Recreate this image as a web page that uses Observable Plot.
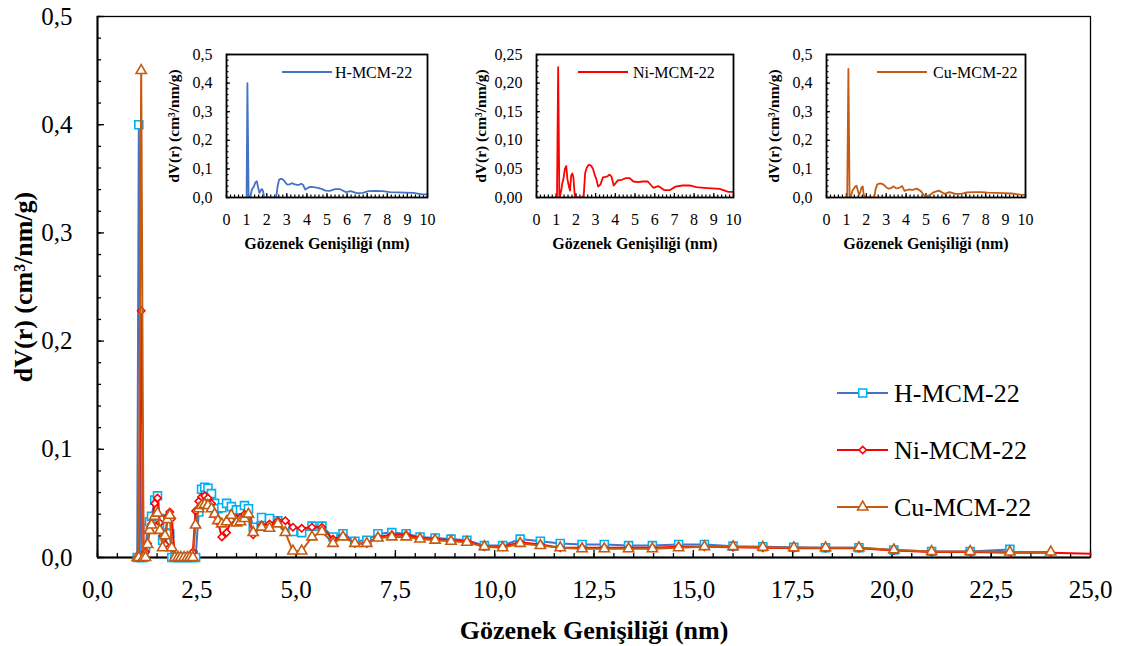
<!DOCTYPE html>
<html><head><meta charset="utf-8">
<script src="https://cdn.jsdelivr.net/npm/d3@7"></script>
<script src="https://cdn.jsdelivr.net/npm/@observablehq/plot@0.6"></script>
<style>
body{margin:0;background:#fff;}
#wrap{position:relative;width:1124px;height:646px;overflow:hidden;background:#fff;}
#wrap > svg{position:absolute;background:transparent !important;font-family:"Liberation Serif","Times New Roman",serif !important;}
#wrap > svg text{font-family:"Liberation Serif","Times New Roman",serif !important;}
</style></head><body><div id="wrap"></div>
<script>
// ---- data ----
const xs = [1.00,1.04,1.10,1.16,1.21,1.26,1.31,1.36,1.44,1.51,1.57,1.64,1.70,1.76,1.82,1.87,1.95,2.03,2.10,2.18,
  2.26,2.33,2.40,2.47,2.55,2.62,2.70,2.78,2.87,2.95,3.03,3.13,3.25,3.37,3.50,3.60,3.70,3.80,3.92,4.13,
  4.33,4.54,4.73,4.92,5.14,5.40,5.65,5.93,6.18,6.48,6.78,7.06,7.41,7.77,8.12,8.50,8.90,9.30,9.74,10.20,
  10.64,11.15,11.65,12.20,12.76,13.37,13.97,14.63,15.28,16.00,16.75,17.53,18.33,19.17,20.05,21.00,21.97,22.97,24.00,25.00];
const hY = [0,0.400,0,0,0.010,0.027,0.033,0.038,0.053,0.057,0.036,0.016,0.024,0.030,0.022,0,0,0,0,0,
  0,0,0,0,0.042,0.063,0.065,0.064,0.059,0.050,0.045,0.046,0.050,0.047,0.044,0.044,0.048,0.045,0.028,0.037,
  0.036,0.034,0.030,0.024,0.023,0.029,0.029,0.019,0.022,0.015,0.016,0.022,0.023,0.022,0.019,0.018,0.017,0.016,0.011,0.011,
  0.017,0.015,0.013,0.012,0.012,0.011,0.011,0.012,0.012,0.0105,0.010,0.0095,0.009,0.009,0.007,0.0055,0.0055,0.0075,null,null];
const niY = [0,0,0.228,0,0.005,0.013,0.025,0.031,0.050,0.055,0.032,0.020,0.012,0.038,0.042,0.036,0,0,0,0,
  0,0,0.005,0.043,0.052,0.056,0.057,0.055,0.050,0.040,0.033,0.019,0.023,0.035,0.036,0.037,0.040,0.037,0.021,0.030,
  0.031,0.034,0.034,0.028,0.027,0.028,0.028,0.017,0.020,0.013,0.013,0.019,0.021,0.021,0.018,0.017,0.016,0.015,0.010,0.010,
  0.014,0.012,0.009,0.009,0.009,0.009,0.009,0.010,0.010,0.0095,0.009,0.0085,0.0085,0.0085,0.0065,0.005,0.005,0.0045,0.0045,0.0034];
const cuY = [0,0,0.450,0,0,0.012,0.025,0.030,0.038,0.041,0.025,0.009,0.020,0.035,0.039,0.009,0,0,0,0,
  0,0,0,0.030,0.045,0.048,0.049,0.048,0.045,0.040,0.034,0.031,0.033,0.039,0.032,0.033,0.036,0.040,0.023,0.028,
  0.027,0.031,0.023,0.006,0.006,0.019,0.024,0.013,0.019,0.013,0.013,0.018,0.019,0.019,0.017,0.016,0.015,0.014,0.010,0.009,
  0.013,0.011,0.009,0.008,0.008,0.008,0.008,0.009,0.010,0.010,0.0095,0.009,0.009,0.009,0.007,0.0055,0.0055,0.005,0.005,null];

const xMajor = [0,2.5,5,7.5,10,12.5,15,17.5,20,22.5,25];
const yMajor = [0,0.1,0.2,0.3,0.4,0.5];
const xMinor = d3.range(0,25.001,0.5);
const yMinor = d3.range(0,0.5001,0.02);
const insetXTicks = [0,1,2,3,4,5,6,7,8,9,10];
const insetYTicksH = [0,0.1,0.2,0.3,0.4,0.5];
const insetYTicksNi = [0,0.05,0.10,0.15,0.20,0.25];

const xTitle = "Gözenek Genişiliği (nm)";
const yTitle = "dV(r) (cm³/nm/g)";
const names = ["H-MCM-22","Ni-MCM-22","Cu-MCM-22"];

// ---- styles ----
const FONT = "Liberation Serif, Times New Roman, serif";
const comma = f => v => d3.format(f)(v).replace(".", ",");
const series = [
  {name:names[0], y:hY,  line:"#4472C4", mark:"#00B0F0", symbol:"square",   r:4.5},
  {name:names[1], y:niY, line:"#FF0000", mark:"#FF0000", symbol:"diamond2", r:3.3},
  {name:names[2], y:cuY, line:"#C55A11", mark:"#C55A11", symbol:"triangle", r:3.8}
];
const rows = s => xs.map((x,i)=>({x, y:s.y[i]})).filter(d => d.y != null);
const symMap = {square:d3.symbolSquare, diamond2:d3.symbolDiamond2, triangle:d3.symbolTriangle};

const wrap = document.getElementById("wrap");

// ---- main chart ----
const M = {left:97, right:34, top:16, bottom:89};
const seriesMarks = series.flatMap(s => [
  Plot.line(rows(s), {x:"x", y:"y", stroke:s.line, strokeWidth:2}),
  Plot.dot(rows(s).filter(d => d.x < 25), {x:"x", y:"y", symbol:s.symbol, r:s.r, stroke:s.mark, fill:"white", strokeWidth:1.6})
]);
const main = Plot.plot({
  width:1124, height:646,
  marginLeft:M.left, marginRight:M.right, marginTop:M.top, marginBottom:M.bottom,
  x:{domain:[0,25], label:null}, y:{domain:[0,0.5], label:null},
  style:{fontFamily:FONT, color:"black", background:"transparent"},
  marks:[
    Plot.axisX(xMinor, {tickSize:-4, fill:"none", strokeWidth:1.3}),
    Plot.axisX(xMajor, {tickSize:-7, fill:"none", strokeWidth:1.3}),
    Plot.axisX(xMajor, {tickSize:0, tickPadding:23, tickFormat:comma(".1f"), fontSize:25, fontFamily:FONT, label:null}),
    Plot.axisY(yMinor, {tickSize:-4, fill:"none", strokeWidth:1.3}),
    Plot.axisY(yMajor, {tickSize:-7, fill:"none", strokeWidth:1.3}),
    Plot.axisY(yMajor, {tickSize:0, tickPadding:25, tickFormat:comma(".1f"), fontSize:25, fontFamily:FONT, label:null}),
    Plot.frame({strokeWidth:1.3}),
    Plot.ruleX([0], {strokeWidth:2}),
    Plot.ruleY([0], {strokeWidth:2}),
    ...seriesMarks,
    Plot.text([xTitle], {text:d=>d, frameAnchor:"bottom", dy:73, lineAnchor:"middle", textAnchor:"middle",
      fontWeight:"bold", fontSize:26, fontFamily:FONT}),
    Plot.text([yTitle], {text:d=>d, frameAnchor:"left", dx:-74, rotate:-90, lineAnchor:"middle", textAnchor:"middle",
      fontWeight:"bold", fontSize:26, fontFamily:FONT})
  ]
});
d3.select(main).attr("font-family", FONT);
main.style.left = "0px"; main.style.top = "0px";
wrap.appendChild(main);

// main legend
const lg = d3.select(main).append("g").attr("font-family", FONT).attr("font-size", 26).attr("text-anchor","start");
const legendRows = [393, 450, 507];
series.forEach((s,i) => {
  const y = legendRows[i];
  lg.append("line").attr("x1",837).attr("x2",888).attr("y1",y).attr("y2",y)
    .attr("stroke",s.line).attr("stroke-width",2);
  lg.append("path").attr("d", d3.symbol(symMap[s.symbol], Math.PI*s.r*s.r)())
    .attr("transform",`translate(862.7,${y})`).attr("fill","white").attr("stroke",s.mark).attr("stroke-width",1.6);
  lg.append("text").attr("x",894).attr("y",y+9).attr("fill","black").text(s.name);
});

// ---- insets ----
const insets = [
  {s:series[0], fl:226, fw:201, ymax:0.5, yt:insetYTicksH, ym:d3.range(0,0.5001,0.02), fmt:".1f", tdx:-52, leg:[282,332,335]},
  {s:series[1], fl:536, fw:197, ymax:0.25, yt:insetYTicksNi, ym:d3.range(0,0.2501,0.01), fmt:".2f", tdx:-55, leg:[578,628,633]},
  {s:series[2], fl:826, fw:199, ymax:0.5, yt:insetYTicksH, ym:d3.range(0,0.5001,0.02), fmt:".1f", tdx:-52, leg:[877,927,933]}
];
const IM = {left:70, right:10, top:20, bottom:60}, FT = 54, FH = 143;
insets.forEach(c => {
  const data = rows(c.s).filter(d => d.x <= 10.5);
  const p = Plot.plot({
    width: IM.left + c.fw + IM.right, height: IM.top + FH + IM.bottom,
    marginLeft:IM.left, marginRight:IM.right, marginTop:IM.top, marginBottom:IM.bottom,
    x:{domain:[0,10], label:null}, y:{domain:[0,c.ymax], label:null},
    style:{fontFamily:FONT, color:"black", background:"transparent", overflow:"visible"},
    marks:[
      Plot.axisX(d3.range(0,10.001,0.2), {tickSize:-2.5, fill:"none", strokeWidth:1.2}),
      Plot.axisX(insetXTicks, {tickSize:-4, fill:"none", strokeWidth:1.2}),
      Plot.axisX(insetXTicks, {tickSize:0, tickPadding:16, fontSize:16, fontFamily:FONT, label:null}),
      Plot.axisY(c.ym, {tickSize:-2.5, fill:"none", strokeWidth:1.2}),
      Plot.axisY(c.yt, {tickSize:-4, fill:"none", strokeWidth:1.2}),
      Plot.axisY(c.yt, {tickSize:0, tickPadding:14, tickFormat:comma(c.fmt), fontSize:16, fontFamily:FONT, label:null}),
      Plot.line(data, {x:"x", y:"y", stroke:c.s.line, strokeWidth:1.8, clip:true}),
      Plot.frame({strokeWidth:1.8}),
      Plot.text([xTitle], {text:d=>d, frameAnchor:"bottom", dy:46, lineAnchor:"middle", textAnchor:"middle",
        fontWeight:"bold", fontSize:16, fontFamily:FONT}),
      Plot.text([yTitle], {text:d=>d, frameAnchor:"left", dx:c.tdx, rotate:-90, lineAnchor:"middle", textAnchor:"middle",
        fontWeight:"bold", fontSize:15.5, fontFamily:FONT})
    ]
  });
  d3.select(p).attr("font-family", FONT);
  const L = c.fl - IM.left, T = FT - IM.top;
  p.style.left = L + "px"; p.style.top = T + "px";
  wrap.appendChild(p);
  const g = d3.select(p).append("g").attr("font-family", FONT).attr("font-size", 16).attr("text-anchor","start");
  const ly = 72 - T;
  g.append("line").attr("x1", c.leg[0]-L).attr("x2", c.leg[1]-L).attr("y1", ly).attr("y2", ly)
    .attr("stroke", c.s.line).attr("stroke-width", 1.8);
  g.append("text").attr("x", c.leg[2]-L).attr("y", ly+5.5).attr("fill","black").text(c.s.name);
});
</script></body></html>
